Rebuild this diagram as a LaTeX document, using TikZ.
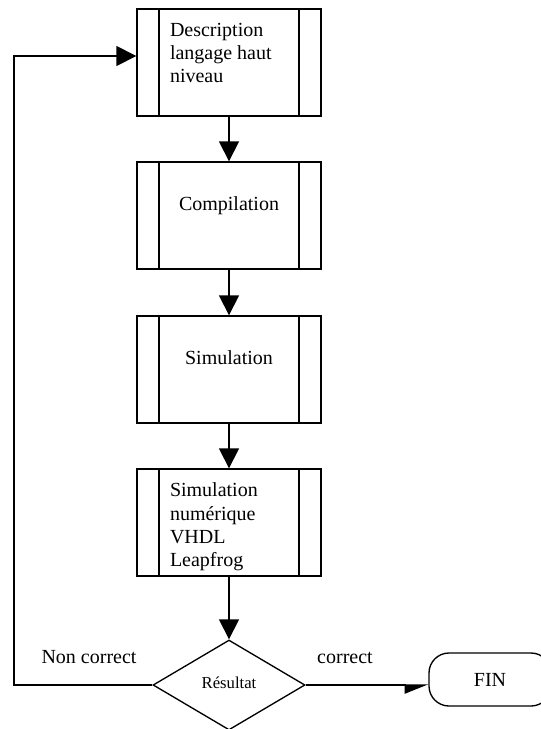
\documentclass[tikz,border=0pt]{standalone}
\usepackage{fontspec}
\setmainfont{Liberation Serif}
\usetikzlibrary{arrows.meta, positioning, shapes.geometric}
\newcommand{\proctext}[1]{\parbox[c][59.25pt][t]{88.5pt}{\raggedright #1}}
\tikzset{>={Triangle[length=15pt,width=15pt]}}
\tikzset{
	proc/.style={draw, line width=1pt, minimum width=138pt, minimum height=80.25pt, inner sep=0pt,
		font=\fontsize{15}{17.5}\selectfont,
		path picture={
			\draw [line width=1pt] ([xshift=16.5pt]path picture bounding box.north west) -- ([xshift=16.5pt]path picture bounding box.south west);
			\draw [line width=1pt] ([xshift=-16.5pt]path picture bounding box.north east) -- ([xshift=-16.5pt]path picture bounding box.south east);
		}},
	decision/.style={draw, diamond, line width=1pt, minimum width=114pt, minimum height=67.5pt, inner sep=0pt, font=\fontsize{12.5}{14}\selectfont},
	stop/.style={draw, line width=1pt, rounded corners=15pt, minimum width=91.5pt, minimum height=39.75pt, font=\fontsize{15}{17.5}\selectfont},
	flow/.style={line width=1pt, ->},
	txt/.style={font=\fontsize{15}{17.5}\selectfont, anchor=base}
}
\begin{document}
\begin{tikzpicture}[x=0.75pt, y=-0.75pt]

	\useasboundingbox (0,0) rectangle (541,729);

	\node [proc] (desc) at (229,62.5) {\proctext{Description\\langage haut\\niveau}};
	\node [proc] (comp) at (229,215.5) {\proctext{\centering\mbox{}\\[8pt]Compilation}};
	\node [proc] (simu) at (229,369.5) {\proctext{\centering\mbox{}\\[8pt]Simulation}};
	\node [proc] (vhdl) at (229,522.5) {\proctext{Simulation\\num\'erique\\VHDL\\Leapfrog}};

	\node [decision] (res) at (229,685) {\raisebox{3pt}{R\'esultat}};
	\node [stop] (fin) at (490,679.5) {FIN};

	\draw [flow] (desc) -- (comp);
	\draw [flow] (comp) -- (simu);
	\draw [flow] (simu) -- (vhdl);
	\draw [flow] (vhdl) -- (res);

	% retour
	\coordinate (back) at (14,56);
	\draw [flow] (res.west) -| (back) -- (back -| desc.west);
	\node [txt] (nonok) at (89,663) {Non correct};

	\draw [line width=1pt, -{Triangle[harpoon, swap, length=16.5pt, width=13pt]}] (res.east) -- (res.east -| fin.west);
	\node [txt] (ok) at (345,663) {correct};

\end{tikzpicture}
\end{document}
